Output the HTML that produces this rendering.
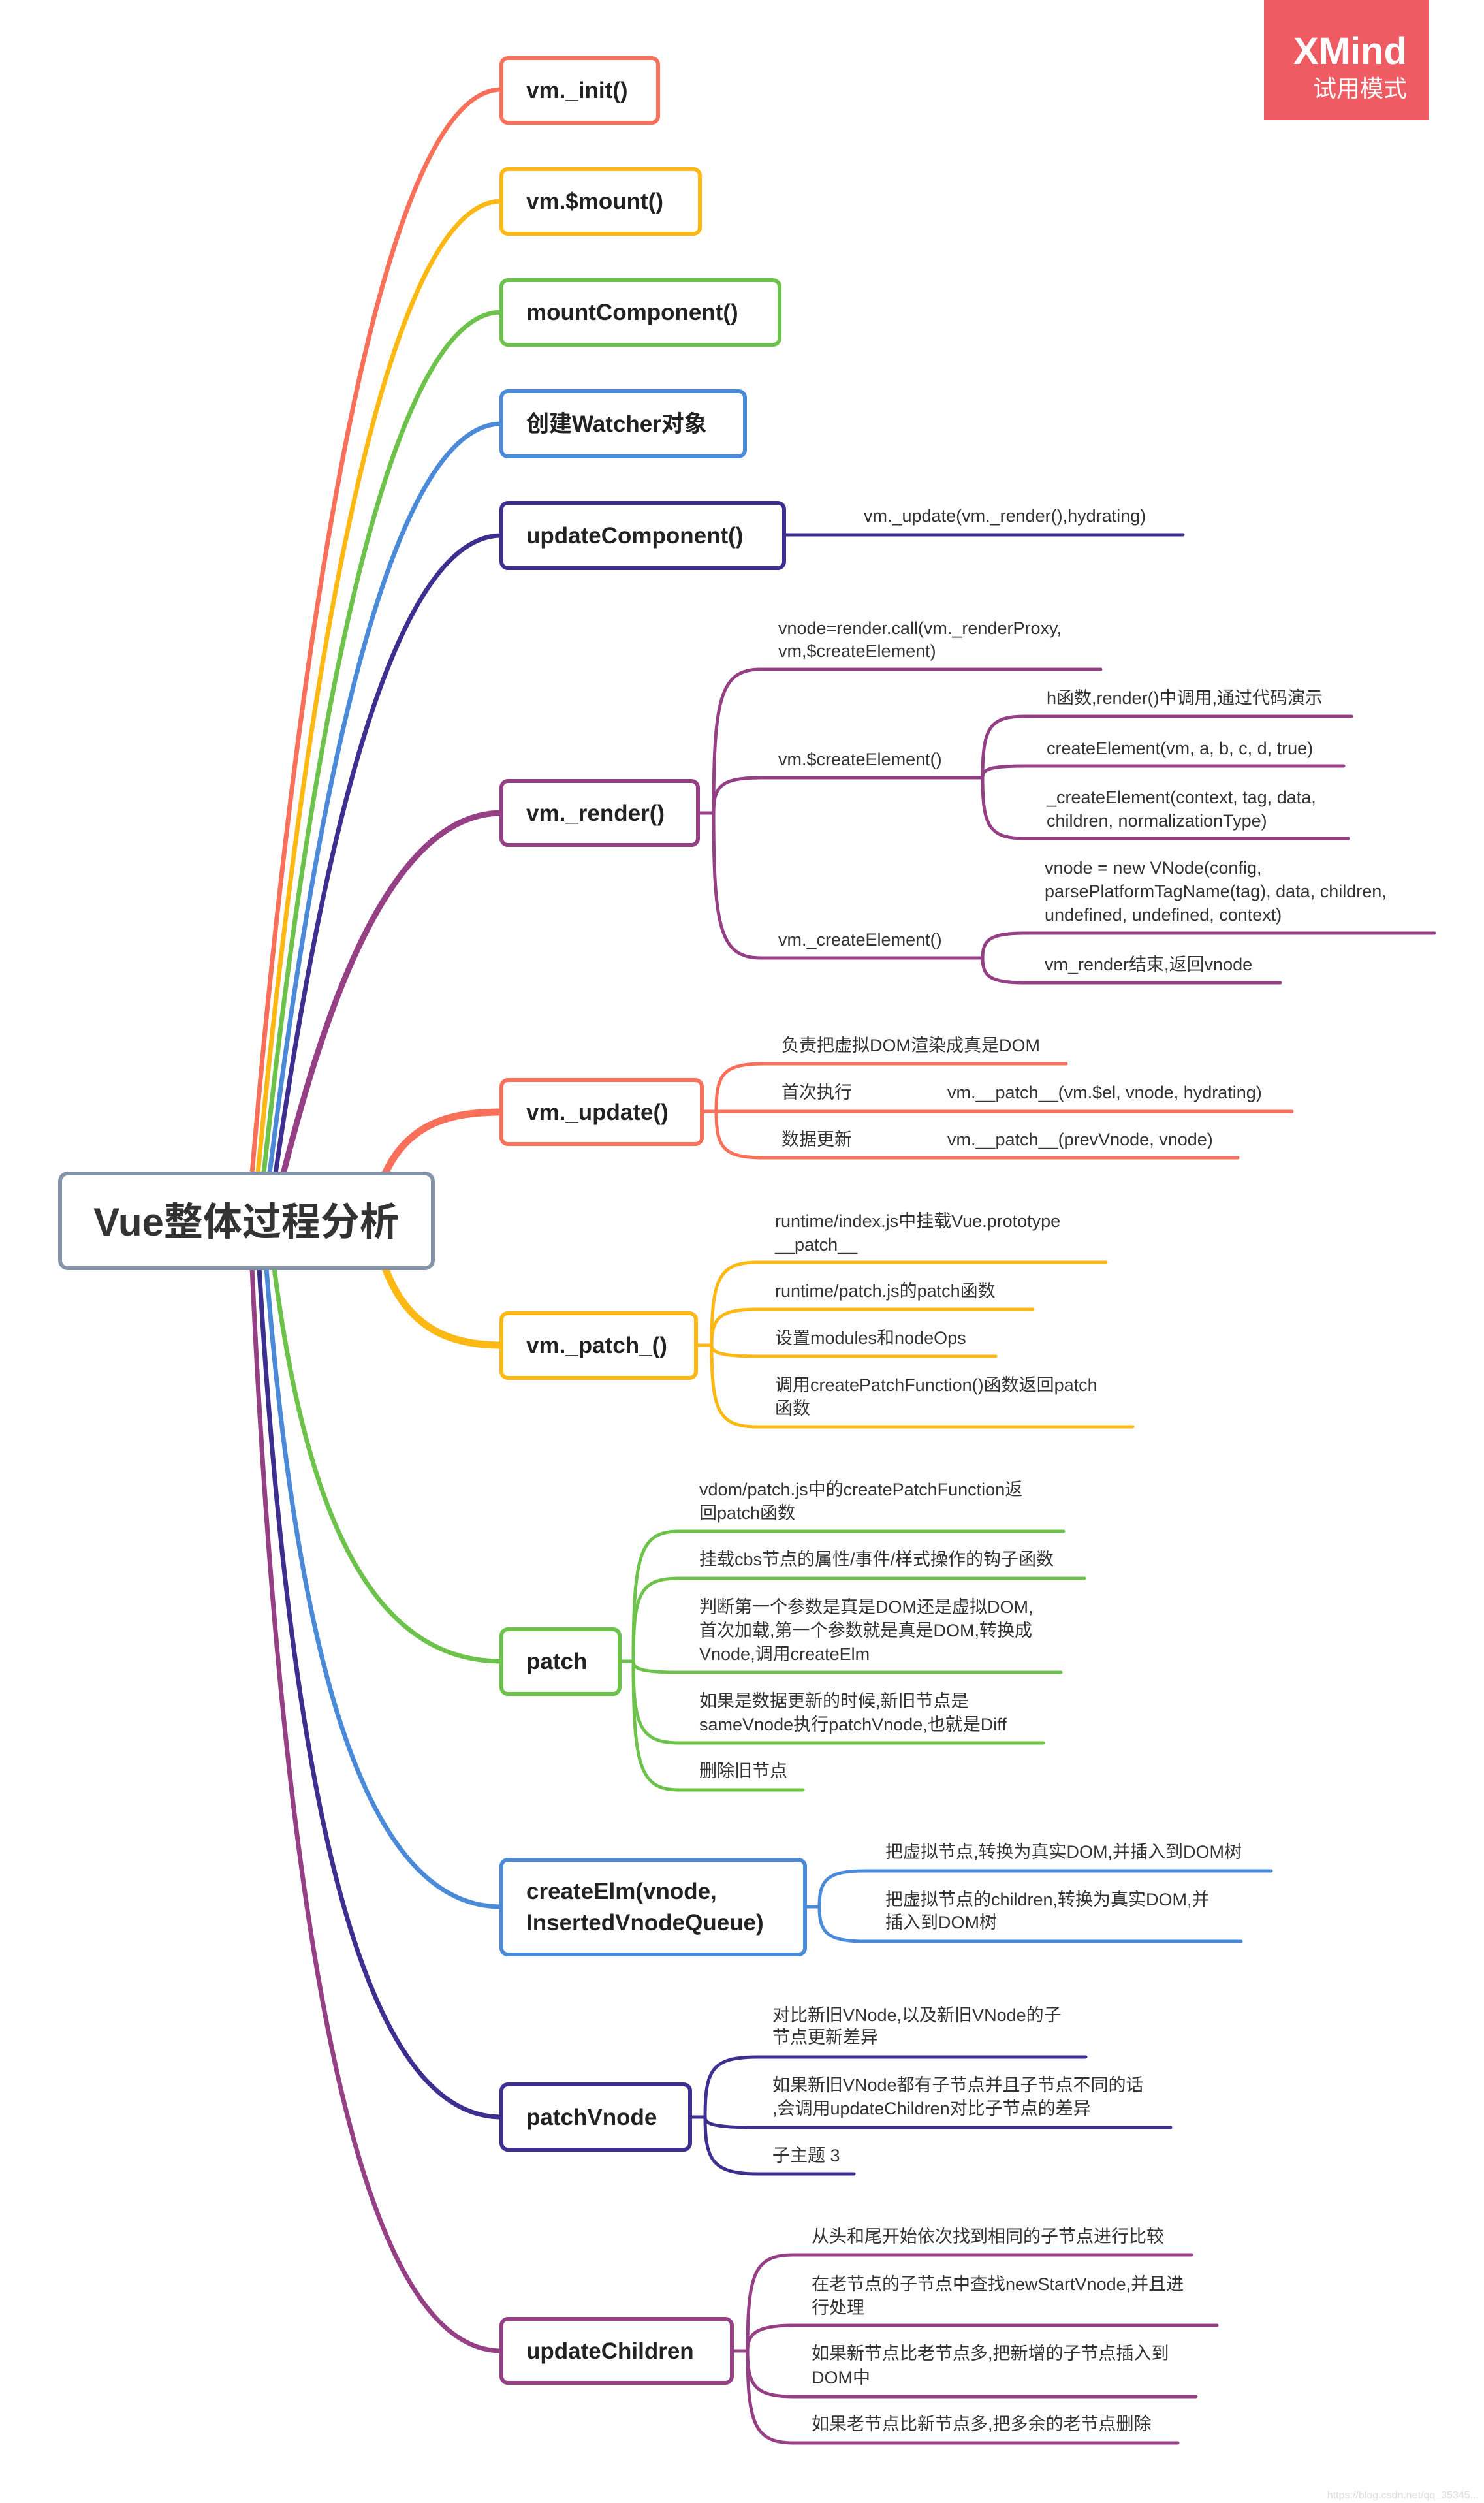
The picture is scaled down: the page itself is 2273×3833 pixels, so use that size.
<!DOCTYPE html>
<html><head><meta charset="utf-8"><style>
html,body{margin:0;padding:0;background:#fff}
svg{display:block}
.n{font-family:"Liberation Sans","Noto Sans CJK SC",sans-serif;font-weight:bold;font-size:35px;fill:#222}
.t{font-family:"Liberation Sans","Noto Sans CJK SC",sans-serif;font-size:27px;fill:#333}
.c{fill:none;stroke-linecap:round}
</style></head><body>
<svg width="2273" height="3833" viewBox="0 0 2273 3833" xmlns="http://www.w3.org/2000/svg">
<g class="c" stroke-width="7">
<path d="M386,1797 C436,1214 556,137 768,137" stroke="#f8705a"/>
<path d="M395,1797 C445,1274 563,308 768,308" stroke="#fdb813"/>
<path d="M404,1797 C454,1334 568,478 768,478" stroke="#6cc24a"/>
<path d="M413,1797 C463,1393 573,649 768,649" stroke="#4a8ad8"/>
<path d="M422,1797 C472,1454 577,820 768,820" stroke="#3d2f8f"/>
<path d="M434,1797 C484,1602 583,1245 768,1245" stroke="#953f84" stroke-width="9"/>
<path d="M590,1797 C625,1720 690,1703 768,1703" stroke="#f8705a" stroke-width="11"/>
<path d="M590,1942 C625,2035 690,2060 768,2060" stroke="#fdb813" stroke-width="11"/>
<path d="M420,1942 C470,2330 574,2544 768,2544" stroke="#6cc24a"/>
<path d="M408,1942 C458,2576 568,2920 768,2920" stroke="#4a8ad8"/>
<path d="M397,1942 C447,2790 562,3242 768,3242" stroke="#3d2f8f"/>
<path d="M386,1942 C436,3020 557,3600 768,3600" stroke="#953f84"/>
</g>

<rect x="92" y="1797" width="571" height="145" rx="12" fill="#fff" stroke="#8493a8" stroke-width="6"/>
<text x="377" y="1892" text-anchor="middle" style="font-family:'Liberation Sans','Noto Sans CJK SC',sans-serif;font-weight:bold;font-size:60px;fill:#333">Vue整体过程分析</text>

<rect x="1936" y="0" width="252" height="184" fill="#ef5b63"/>
<text x="2155" y="98" text-anchor="end" style="font-family:'Liberation Sans',sans-serif;font-weight:bold;font-size:58px;fill:#fff">XMind</text>
<text x="2155" y="148" text-anchor="end" style="font-family:'Liberation Sans','Noto Sans CJK SC',sans-serif;font-size:36px;fill:#fff">试用模式</text>

<g stroke-width="6" fill="#fff">
<rect x="768" y="89" width="240" height="99" rx="10" stroke="#f8705a"/>
<rect x="768" y="259" width="304" height="99" rx="10" stroke="#fdb813"/>
<rect x="768" y="429" width="426" height="99" rx="10" stroke="#6cc24a"/>
<rect x="768" y="599" width="373" height="100" rx="10" stroke="#4a8ad8"/>
<rect x="768" y="770" width="433" height="100" rx="10" stroke="#3d2f8f"/>
<rect x="768" y="1196" width="301" height="98" rx="10" stroke="#953f84"/>
<rect x="768" y="1654" width="307" height="98" rx="10" stroke="#f8705a"/>
<rect x="768" y="2011" width="298" height="99" rx="10" stroke="#fdb813"/>
<rect x="768" y="2495" width="181" height="99" rx="10" stroke="#6cc24a"/>
<rect x="768" y="2848" width="465" height="145" rx="10" stroke="#4a8ad8"/>
<rect x="768" y="3192" width="289" height="100" rx="10" stroke="#3d2f8f"/>
<rect x="768" y="3551" width="353" height="98" rx="10" stroke="#953f84"/>
</g>
<g class="n">
<text x="806" y="150">vm._init()</text>
<text x="806" y="320">vm.$mount()</text>
<text x="806" y="490">mountComponent()</text>
<text x="806" y="661">创建Watcher对象</text>
<text x="806" y="832">updateComponent()</text>
<text x="806" y="1257">vm._render()</text>
<text x="806" y="1715">vm._update()</text>
<text x="806" y="2072">vm._patch_()</text>
<text x="806" y="2556">patch</text>
<text x="806" y="2908">createElm(vnode,</text>
<text x="806" y="2956">InsertedVnodeQueue)</text>
<text x="806" y="3254">patchVnode</text>
<text x="806" y="3612">updateChildren</text>
</g>

<g class="c" stroke-width="5">
<path d="M1201,819 L1812,819" stroke="#3d2f8f"/>
<g stroke="#953f84">
<path d="M1069,1245 L1093,1245"/>
<path d="M1093,1245 C1093,1070 1103,1025 1165,1025 L1686,1025"/>
<path d="M1093,1245 C1093,1205 1103,1191 1165,1191 L1505,1191"/>
<path d="M1093,1245 C1093,1420 1103,1467 1165,1467 L1505,1467"/>
<path d="M1505,1191 C1505,1115 1515,1097 1570,1097 L2070,1097"/>
<path d="M1505,1191 C1505,1178 1515,1173 1570,1173 L2058,1173"/>
<path d="M1505,1191 C1505,1265 1515,1284 1570,1284 L2065,1284"/>
<path d="M1505,1467 C1505,1440 1515,1429 1570,1429 L2197,1429"/>
<path d="M1505,1467 C1505,1494 1515,1505 1570,1505 L1961,1505"/>
</g>
<g stroke="#f8705a">
<path d="M1075,1702 L1097,1702"/>
<path d="M1097,1702 C1097,1645 1107,1629 1170,1629 L1633,1629"/>
<path d="M1097,1702 L1979,1702"/>
<path d="M1097,1702 C1097,1757 1107,1773 1170,1773 L1896,1773"/>
</g>
<g stroke="#fdb813">
<path d="M1066,2060 L1090,2060"/>
<path d="M1090,2060 C1090,1960 1100,1933 1160,1933 L1694,1933"/>
<path d="M1090,2060 C1090,2020 1100,2005 1160,2005 L1582,2005"/>
<path d="M1090,2060 C1090,2070 1100,2077 1160,2077 L1525,2077"/>
<path d="M1090,2060 C1090,2160 1100,2185 1160,2185 L1735,2185"/>
</g>
<g stroke="#6cc24a">
<path d="M949,2544 L970,2544"/>
<path d="M970,2544 C970,2380 980,2345 1040,2345 L1629,2345"/>
<path d="M970,2544 C970,2440 980,2417 1040,2417 L1661,2417"/>
<path d="M970,2544 C970,2555 980,2561 1040,2561 L1625,2561"/>
<path d="M970,2544 C970,2642 980,2669 1040,2669 L1598,2669"/>
<path d="M970,2544 C970,2705 980,2741 1040,2741 L1230,2741"/>
</g>
<g stroke="#4a8ad8">
<path d="M1233,2920 L1255,2920"/>
<path d="M1255,2920 C1255,2880 1265,2865 1325,2865 L1947,2865"/>
<path d="M1255,2920 C1255,2958 1265,2973 1325,2973 L1901,2973"/>
</g>
<g stroke="#3d2f8f">
<path d="M1057,3242 L1080,3242"/>
<path d="M1080,3242 C1080,3170 1090,3150 1160,3150 L1663,3150"/>
<path d="M1080,3242 C1080,3252 1090,3258 1160,3258 L1793,3258"/>
<path d="M1080,3242 C1080,3306 1090,3329 1160,3329 L1308,3329"/>
</g>
<g stroke="#953f84">
<path d="M1121,3600 L1145,3600"/>
<path d="M1145,3600 C1145,3482 1155,3453 1215,3453 L1825,3453"/>
<path d="M1145,3600 C1145,3576 1155,3561 1215,3561 L1864,3561"/>
<path d="M1145,3600 C1145,3652 1155,3670 1215,3670 L1832,3670"/>
<path d="M1145,3600 C1145,3710 1155,3741 1215,3741 L1804,3741"/>
</g>
</g>

<g class="t">
<text x="1323" y="799">vm._update(vm._render(),hydrating)</text>
<text x="1192" y="971">vnode=render.call(vm._renderProxy,</text>
<text x="1192" y="1006">vm,$createElement)</text>
<text x="1192" y="1172">vm.$createElement()</text>
<text x="1192" y="1448">vm._createElement()</text>
<text x="1603" y="1078">h函数,render()中调用,通过代码演示</text>
<text x="1603" y="1155">createElement(vm, a, b, c, d, true)</text>
<text x="1603" y="1230">_createElement(context, tag, data,</text>
<text x="1603" y="1266">children, normalizationType)</text>
<text x="1600" y="1338">vnode = new VNode(config,</text>
<text x="1600" y="1374">parsePlatformTagName(tag), data, children,</text>
<text x="1600" y="1410">undefined, undefined, context)</text>
<text x="1600" y="1486">vm_render结束,返回vnode</text>

<text x="1197" y="1610">负责把虚拟DOM渲染成真是DOM</text>
<text x="1197" y="1682">首次执行</text>
<text x="1451" y="1682">vm.__patch__(vm.$el, vnode, hydrating)</text>
<text x="1197" y="1754">数据更新</text>
<text x="1451" y="1754">vm.__patch__(prevVnode, vnode)</text>

<text x="1187" y="1879">runtime/index.js中挂载Vue.prototype</text>
<text x="1187" y="1915">__patch__</text>
<text x="1187" y="1986">runtime/patch.js的patch函数</text>
<text x="1187" y="2058">设置modules和nodeOps</text>
<text x="1187" y="2130">调用createPatchFunction()函数返回patch</text>
<text x="1187" y="2166">函数</text>

<text x="1071" y="2290">vdom/patch.js中的createPatchFunction返</text>
<text x="1071" y="2326">回patch函数</text>
<text x="1071" y="2397">挂载cbs节点的属性/事件/样式操作的钩子函数</text>
<text x="1071" y="2470">判断第一个参数是真是DOM还是虚拟DOM,</text>
<text x="1071" y="2506">首次加载,第一个参数就是真是DOM,转换成</text>
<text x="1071" y="2542">Vnode,调用createElm</text>
<text x="1071" y="2614">如果是数据更新的时候,新旧节点是</text>
<text x="1071" y="2650">sameVnode执行patchVnode,也就是Diff</text>
<text x="1071" y="2721">删除旧节点</text>

<text x="1356" y="2845">把虚拟节点,转换为真实DOM,并插入到DOM树</text>
<text x="1356" y="2918">把虚拟节点的children,转换为真实DOM,并</text>
<text x="1356" y="2953">插入到DOM树</text>

<text x="1183" y="3095">对比新旧VNode,以及新旧VNode的子</text>
<text x="1183" y="3129">节点更新差异</text>
<text x="1183" y="3202">如果新旧VNode都有子节点并且子节点不同的话</text>
<text x="1183" y="3238">,会调用updateChildren对比子节点的差异</text>
<text x="1183" y="3310">子主题 3</text>

<text x="1243" y="3434">从头和尾开始依次找到相同的子节点进行比较</text>
<text x="1243" y="3507">在老节点的子节点中查找newStartVnode,并且进</text>
<text x="1243" y="3543">行处理</text>
<text x="1243" y="3613">如果新节点比老节点多,把新增的子节点插入到</text>
<text x="1243" y="3650">DOM中</text>
<text x="1243" y="3721">如果老节点比新节点多,把多余的老节点删除</text>
</g>
<text x="2265" y="3826" text-anchor="end" style="font-family:'Liberation Sans',sans-serif;font-size:16px;fill:#ddd">https://blog.csdn.net/qq_35345...</text>
</svg>
</body></html>
